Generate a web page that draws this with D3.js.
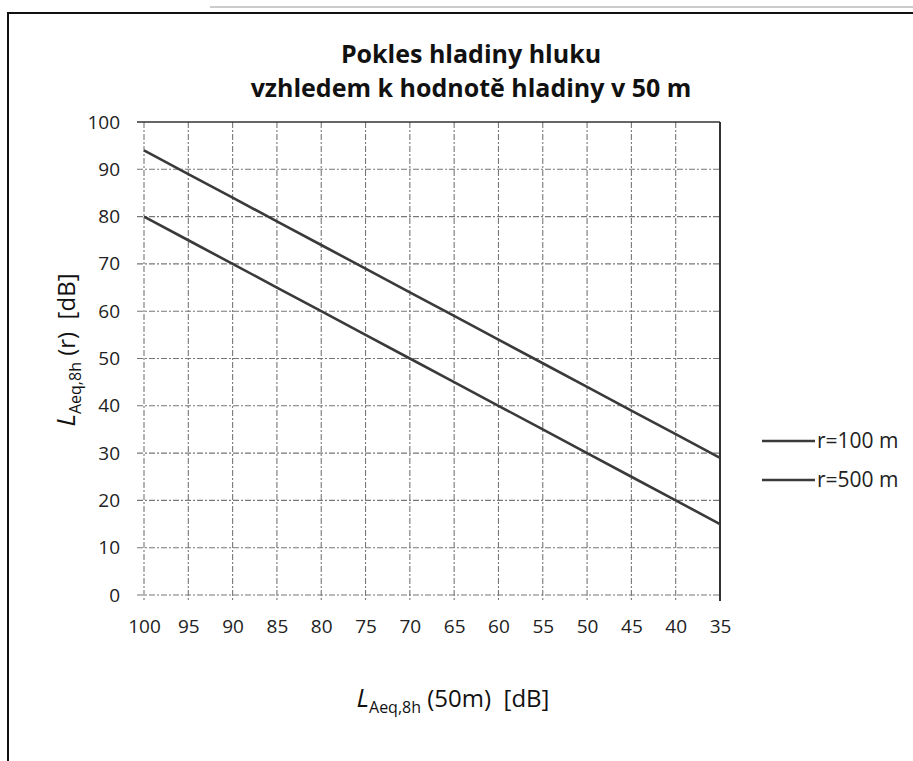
<!DOCTYPE html>
<html>
<head>
<meta charset="utf-8">
<style>
  body { margin: 0; background: #fff; }
  svg { font-family: "Open Sans", "DejaVu Sans", sans-serif; }
  text { white-space: pre; }
</style>
</head>
<body>
<svg width="913" height="761"></svg>
<script src="https://d3js.org/d3.v7.min.js"></script>
<script>

// hladina v 50 m (osa x je obracena)
var levels50 = [100, 95, 90, 85, 80, 75, 70, 65, 60, 55, 50, 45, 40, 35];
var r100 = [94, 89, 84, 79, 74, 69, 64, 59, 54, 49, 44, 39, 34, 29];
var r500 = [80, 75, 70, 65, 60, 55, 50, 45, 40, 35, 30, 25, 20, 15];
var seriesNames = ["r=100 m", "r=500 m"];
var yTicks = [0, 10, 20, 30, 40, 50, 60, 70, 80, 90, 100];

var margin = {top: 122, right: 193, bottom: 166, left: 144},
    width = 913 - margin.left - margin.right,
    height = 761 - margin.top - margin.bottom;

var svg = d3.select("svg");

// ramecek kolem grafu (sken)
svg.append("path")
    .attr("d", "M8,761 V13 H913")
    .attr("fill", "none")
    .attr("stroke", "#111")
    .attr("stroke-width", 2);
svg.append("line")
    .attr("x1", 210).attr("x2", 913).attr("y1", 7).attr("y2", 7)
    .attr("stroke", "#bbb").attr("stroke-width", 1.5);

var x = d3.scaleLinear().domain([100, 35]).range([0, width]);
var y = d3.scaleLinear().domain([0, 100]).range([height, 0]);

var g = svg.append("g")
    .attr("transform", "translate(" + margin.left + "," + margin.top + ")");

// mrizka
g.append("g")
  .selectAll("line")
  .data(levels50)
  .enter().append("line")
    .attr("x1", function(d) { return x(d); })
    .attr("x2", function(d) { return x(d); })
    .attr("y1", 0)
    .attr("y2", height + 6)
    .attr("stroke", function(d) { return d == 35 ? "#333" : "#777"; })
    .attr("stroke-width", function(d) { return d == 35 ? 2 : 1.1; })
    .attr("stroke-dasharray", function(d) { return d == 35 ? null : "6,2,2,2"; });

g.append("g")
  .selectAll("line")
  .data(yTicks)
  .enter().append("line")
    .attr("x1", -7)
    .attr("x2", width)
    .attr("y1", function(d) { return y(d); })
    .attr("y2", function(d) { return y(d); })
    .attr("stroke", function(d) { return d == 100 ? "#333" : "#777"; })
    .attr("stroke-width", function(d) { return d == 100 ? 1.6 : 1.1; })
    .attr("stroke-dasharray", function(d) { return d == 100 ? null : "6,2,2,2"; });

// popisky os
var yAxis = g.append("g")
    .call(d3.axisLeft(y).tickValues(yTicks).tickSize(0).tickPadding(24));
yAxis.select(".domain").remove();
yAxis.selectAll("text")
    .attr("font-size", 19)
    .attr("fill", "#222")
    .attr("font-family", "Open Sans, sans-serif");

var xAxis = g.append("g")
    .attr("transform", "translate(0," + height + ")")
    .call(d3.axisBottom(x).tickValues(levels50).tickSize(0).tickPadding(25));
xAxis.select(".domain").remove();
xAxis.selectAll("text")
    .attr("font-size", 19)
    .attr("fill", "#222")
    .attr("font-family", "Open Sans, sans-serif");

// krivky
var line = d3.line()
    .x(function(d) { return x(d[0]); })
    .y(function(d) { return y(d[1]); });

var series = [r100, r500];
series.forEach(function(vals) {
  g.append("path")
      .datum(levels50.map(function(l, i) { return [l, vals[i]]; }))
      .attr("fill", "none")
      .attr("stroke", "#3a3a3a")
      .attr("stroke-width", 2.6)
      .attr("d", line);
});

// nadpis
var title = svg.append("text")
    .attr("text-anchor", "middle")
    .attr("font-weight", "bold")
    .attr("font-size", 25)
    .attr("fill", "#111")
    .attr("font-family", "Open Sans, sans-serif");
title.append("tspan").attr("x", 471).attr("y", 63).text("Pokles hladiny hluku");
title.append("tspan").attr("x", 471).attr("y", 97).text("vzhledem k hodnotě hladiny v 50 m");

// popisky os
function axisTitle(sel, rest) {
  sel.append("tspan").attr("font-style", "italic").attr("font-size", 26).text("L");
  sel.append("tspan").attr("font-size", 16).attr("dy", 6).text("Aeq,8h");
  sel.append("tspan").attr("font-size", 24).attr("dy", -6).text(rest);
}

var yTitle = svg.append("text")
    .attr("text-anchor", "middle")
    .attr("fill", "#111")
    .attr("transform", "translate(75,350) rotate(-90)");
axisTitle(yTitle, " (r)  [dB]");

var xTitle = svg.append("text")
    .attr("text-anchor", "middle")
    .attr("fill", "#111")
    .attr("x", 453)
    .attr("y", 707);
axisTitle(xTitle, " (50m)  [dB]");

// legenda
var legend = svg.append("g")
    .selectAll("g")
    .data(seriesNames)
    .enter().append("g")
    .attr("transform", function(d, i) { return "translate(762," + (441 + i * 39) + ")"; });
legend.append("line")
    .attr("x1", 0).attr("x2", 53)
    .attr("stroke", "#3a3a3a")
    .attr("stroke-width", 2.4);
legend.append("text")
    .attr("x", 55)
    .attr("dy", "0.35em")
    .attr("font-size", 21)
    .attr("fill", "#222")
    .text(function(d) { return d; });

</script>
</body>
</html>
